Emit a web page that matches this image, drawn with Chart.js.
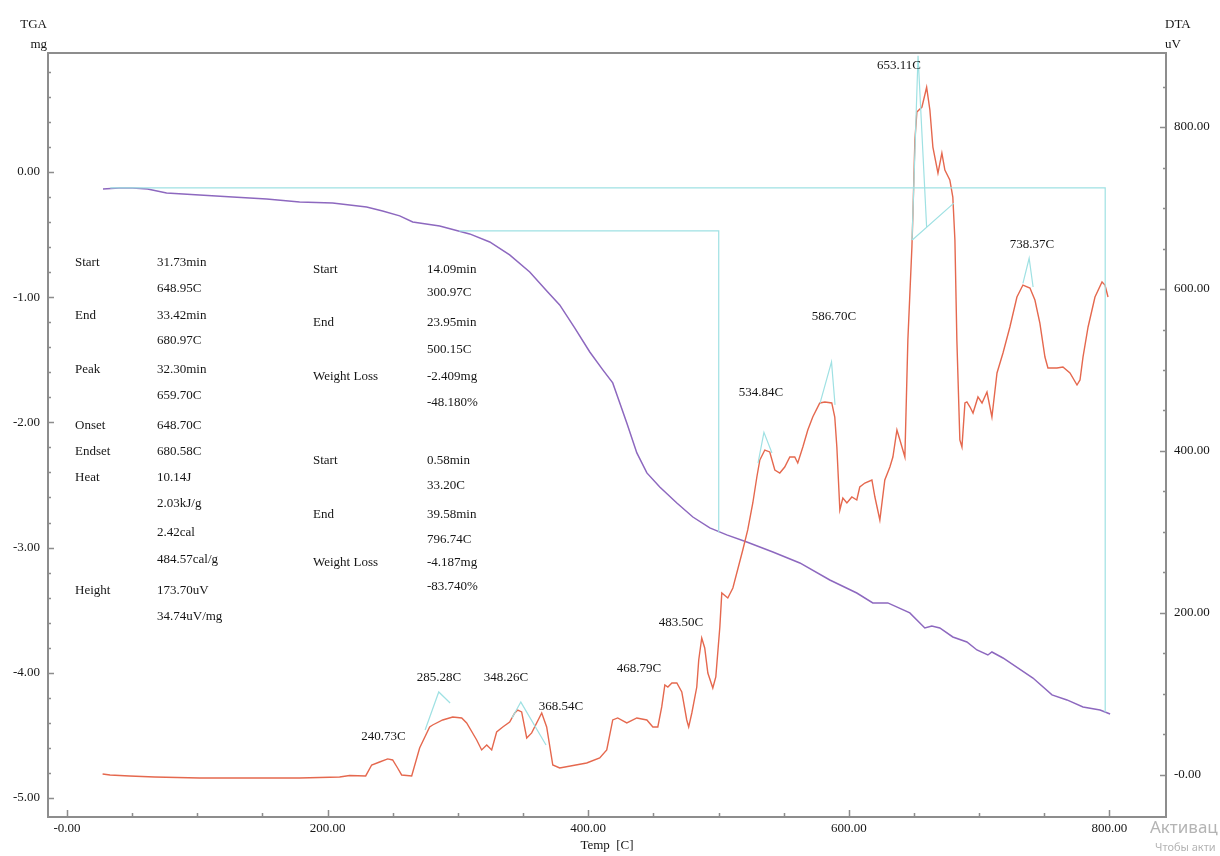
<!DOCTYPE html>
<html>
<head>
<meta charset="utf-8">
<title>TGA / DTA</title>
<script src="https://cdn.jsdelivr.net/npm/chart.js@4.4.1/dist/chart.umd.min.js"></script>
<style>
  html, body { margin: 0; padding: 0; background: #ffffff; }
  #wrap { width: 1220px; height: 856px; position: relative; }
  canvas { display: block; }
</style>
</head>
<body>
<div id="wrap"><canvas id="chart" width="1220" height="856"></canvas></div>
<script>
// ---- Axis ticks ----------------------------------------------------------
const tempTicks = [0, 200, 400, 600, 800];
const tempTickLabels = ['-0.00', '200.00', '400.00', '600.00', '800.00'];
const tgaTicks = [0, -1, -2, -3, -4, -5];
const tgaTickLabels = ['0.00', '-1.00', '-2.00', '-3.00', '-4.00', '-5.00'];
const dtaTicks = [0, 200, 400, 600, 800];
const dtaTickLabels = ['-0.00', '200.00', '400.00', '600.00', '800.00'];

// ---- TGA curve: temperature [C] / mass change [mg] ------------------------
const tgaTemp = [27.6, 40.0, 50.3, 61.8, 76.4, 101.7, 127.1, 153.2, 178.5, 203.8,
  229.9, 242.2, 255.3, 265.3, 286.0, 309.0, 324.4, 339.7, 355.1, 368.9,
  378.1, 389.6, 401.2, 411.2, 418.8, 422.6, 429.6, 437.3, 445.0, 454.9,
  468.0, 480.3, 493.3, 506.3, 521.7, 541.7, 562.4, 585.4, 606.1, 618.4,
  629.9, 646.8, 658.3, 663.7, 669.8, 679.8, 690.6, 698.3, 706.7, 709.8,
  718.3, 741.3, 755.9, 767.4, 779.7, 792.8, 800.5];
const tgaMass = [-0.136, -0.128, -0.128, -0.136, -0.168, -0.184, -0.200, -0.216, -0.240, -0.248,
  -0.280, -0.312, -0.351, -0.399, -0.431, -0.495, -0.559, -0.663, -0.799, -0.958,
  -1.062, -1.246, -1.438, -1.581, -1.685, -1.797, -2.005, -2.244, -2.404, -2.516,
  -2.644, -2.756, -2.843, -2.899, -2.955, -3.035, -3.123, -3.259, -3.363, -3.442,
  -3.442, -3.522, -3.642, -3.626, -3.642, -3.714, -3.754, -3.818, -3.858, -3.834,
  -3.882, -4.042, -4.177, -4.217, -4.273, -4.297, -4.329];

// ---- DTA curve: temperature [C] / signal [uV] ------------------------------
const dtaTemp = [27.3, 33.0, 48.0, 67.2, 101.7, 178.5, 209.2, 216.9, 229.2, 233.8,
  239.9, 246.1, 249.9, 253.7, 256.8, 264.5, 270.6, 278.3, 280.6, 288.3,
  296.0, 302.9, 306.7, 314.4, 318.2, 322.1, 325.9, 329.7, 334.4, 339.7,
  343.6, 345.9, 348.9, 352.8, 356.6, 364.3, 368.1, 372.8, 378.1, 398.8,
  408.8, 414.2, 418.8, 422.6, 429.6, 437.3, 445.0, 449.6, 453.4, 456.4,
  458.8, 461.1, 464.2, 468.0, 471.8, 475.6, 477.1, 479.5, 483.3, 484.8,
  487.1, 489.4, 491.8, 495.6, 497.9, 501.0, 502.5, 507.1, 511.0, 518.6,
  522.4, 526.3, 529.4, 531.7, 535.5, 539.3, 543.2, 547.0, 550.8, 554.7,
  558.5, 560.8, 564.7, 568.5, 572.3, 577.7, 581.6, 586.9, 589.2, 590.8,
  593.1, 595.4, 598.5, 602.3, 606.1, 608.4, 612.3, 617.7, 620.0, 623.8,
  627.6, 631.5, 633.8, 636.9, 639.2, 643.0, 645.3, 648.4, 649.2, 650.7,
  652.2, 656.1, 659.7, 662.2, 664.5, 668.4, 671.4, 673.7, 677.5, 679.8,
  681.4, 682.9, 685.2, 686.8, 689.1, 690.6, 693.0, 695.3, 699.1, 702.2,
  706.0, 709.8, 713.7, 718.3, 723.6, 729.0, 733.6, 739.0, 742.8, 746.6,
  750.5, 752.8, 759.7, 764.3, 769.7, 775.1, 777.4, 779.7, 783.6, 788.9,
  794.3, 796.6, 798.9];
const dtaSignal = [1.2, 0, -1.2, -2.5, -3.7, -3.7, -2.5, -0.6, -1.2, 12.3,
  16.0, 19.8, 18.5, 8.6, 0, -1.2, 33.3, 59.3, 61.7, 67.9,
  71.6, 70.4, 64.2, 43.2, 30.9, 37.0, 30.9, 53.1, 59.3, 65.4,
  76.5, 80.2, 77.8, 45.7, 51.9, 76.5, 59.3, 12.3, 8.6, 14.8,
  21.0, 30.9, 67.9, 70.4, 64.2, 70.4, 67.9, 59.3, 59.3, 84.0,
  111.1, 108.6, 113.6, 113.6, 102.5, 67.9, 59.3, 76.5, 108.6, 142.0,
  169.1, 156.8, 125.9, 107.4, 121.0, 182.7, 224.7, 218.5, 230.9, 277.8,
  302.5, 335.8, 367.9, 388.9, 401.2, 398.8, 376.5, 372.8, 380.2, 392.6,
  392.6, 385.2, 404.9, 425.9, 442.0, 459.3, 460.5, 459.3, 442.0, 404.9,
  327.2, 342.0, 335.8, 343.2, 339.5, 355.6, 360.5, 364.2, 343.2, 314.8,
  364.2, 380.2, 392.6, 425.9, 413.6, 392.6, 537.0, 651.9, 693.8, 784.0,
  818.5, 824.7, 849.0, 821.0, 775.3, 743.2, 767.9, 746.9, 734.6, 713.6,
  660.5, 537.0, 413.6, 404.9, 459.3, 460.5, 454.3, 446.9, 466.7, 459.3,
  472.8, 442.0, 496.3, 521.0, 553.1, 590.1, 604.9, 601.2, 586.4, 558.0,
  516.0, 502.5, 502.5, 503.7, 496.3, 481.5, 487.7, 516.0, 553.1, 590.1,
  608.6, 604.9, 590.1];

// ---- TGA step evaluation (start/end temperature, level, weight loss) -------
const stepTemp = [33.20, 796.74, 796.74, null, 300.97, 500.15, 500.15];
const stepMass = [-0.128, -0.128, -0.128 - 4.187, null, -0.471, -0.471, -0.471 - 2.409];

// ---- DTA peak construction lines ------------------------------------------
const markTemp = [274.8, 285.28, 294.0, null,
  341.5, 348.26, 367.6, null,
  530.3, 534.84, 541.0, null,
  577.9, 586.70, 589.4, null,
  648.5, 653.11, 659.70, null,
  648.70, 680.58, null,
  733.6, 738.37, 741.4];
const markSignal = [55.6, 102.5, 88.9, null,
  70.4, 90.0, 37.0, null,
  385.0, 423.0, 397.5, null,
  459.0, 510.0, 457.0, null,
  660.5, 888.0, 676.2, null,
  660.5, 706.0, null,
  607.0, 638.0, 602.5];

// ---- DTA peak temperatures and where their labels sit ----------------------
const peakTemps = [240.73, 285.28, 348.26, 368.54, 468.79, 483.50, 534.84, 586.70, 653.11, 738.37];
const peakLabelAt = [[242.9, 46.9], [285.5, 119.8], [336.9, 119.8], [379.1, 84.0], [439.0, 130.9],
  [471.2, 187.7], [532.6, 471.6], [588.6, 565.4], [638.5, 875.3], [740.6, 654.3]];

// ---- Evaluation tables --------------------------------------------------
const peakTable = [
  ['Start', '31.73min', 263], ['', '648.95C', 289],
  ['End', '33.42min', 316], ['', '680.97C', 341],
  ['Peak', '32.30min', 370], ['', '659.70C', 396],
  ['Onset', '648.70C', 426],
  ['Endset', '680.58C', 452],
  ['Heat', '10.14J', 478], ['', '2.03kJ/g', 504], ['', '2.42cal', 533], ['', '484.57cal/g', 560],
  ['Height', '173.70uV', 591], ['', '34.74uV/mg', 617]
];
const stepTable = [
  ['Start', '14.09min', 270], ['', '300.97C', 293],
  ['End', '23.95min', 323], ['', '500.15C', 350],
  ['Weight Loss', '-2.409mg', 377], ['', '-48.180%', 403],
  ['Start', '0.58min', 461], ['', '33.20C', 486],
  ['End', '39.58min', 515], ['', '796.74C', 540],
  ['Weight Loss', '-4.187mg', 563], ['', '-83.740%', 587]
];

// ---- helpers ------------------------------------------------------------
const SERIF = '"Liberation Serif", "Times New Roman", serif';
const TEXT = '#161616';
const FRAME = '#8d8d8d';

function toPoints(xs, ys) {
  return xs.map((x, i) => {
    if (x === null) return { x: xs[i - 1], y: null };
    return { x: x, y: ys[i] };
  });
}

function stepTicks(from, to, step) {
  const out = [];
  const n = Math.round((to - from) / step);
  for (let i = 0; i <= n; i++) out.push({ value: +(from + i * step).toFixed(6) });
  return out;
}

function majorLabel(majors, labels) {
  return function (value) {
    const i = majors.findIndex(m => Math.abs(m - value) < 1e-6);
    return i >= 0 ? labels[i] : '';
  };
}

function isMajor(majors, value) {
  return majors.some(m => Math.abs(m - value) < 1e-6);
}

// frame, inward tick marks and all free text
const decorations = {
  id: 'decorations',
  beforeDatasetsDraw(chart) {
    const { ctx, chartArea: a, scales } = chart;
    ctx.save();
    ctx.strokeStyle = FRAME;
    ctx.lineWidth = 2;
    ctx.strokeRect(a.left, a.top, a.right - a.left, a.bottom - a.top);

    ctx.lineWidth = 1.5;
    ctx.beginPath();
    scales.x.ticks.forEach(t => {
      const px = Math.round(scales.x.getPixelForValue(t.value)) + 0.5;
      const len = isMajor(tempTicks, t.value) ? 7 : 4;
      ctx.moveTo(px, a.bottom);
      ctx.lineTo(px, a.bottom - len);
    });
    scales.yL.ticks.forEach(t => {
      const py = Math.round(scales.yL.getPixelForValue(t.value)) + 0.5;
      const len = isMajor(tgaTicks, t.value) ? 6 : 3;
      ctx.moveTo(a.left, py);
      ctx.lineTo(a.left + len, py);
    });
    scales.yR.ticks.forEach(t => {
      const py = Math.round(scales.yR.getPixelForValue(t.value)) + 0.5;
      const len = isMajor(dtaTicks, t.value) ? 6 : 3;
      ctx.moveTo(a.right, py);
      ctx.lineTo(a.right - len, py);
    });
    ctx.stroke();
    ctx.restore();
  },
  afterDraw(chart) {
    const { ctx, scales } = chart;
    ctx.save();
    ctx.fillStyle = TEXT;
    ctx.font = '13px ' + SERIF;
    ctx.textBaseline = 'middle';

    // axis captions
    ctx.textAlign = 'right';
    ctx.fillText('TGA', 47, 25);
    ctx.fillText('mg', 47, 45);
    ctx.textAlign = 'left';
    ctx.fillText('DTA', 1165, 25);
    ctx.fillText('uV', 1165, 45);

    // evaluation tables
    peakTable.forEach(([label, value, y]) => {
      if (label) ctx.fillText(label, 75, y);
      ctx.fillText(value, 157, y);
    });
    stepTable.forEach(([label, value, y]) => {
      if (label) ctx.fillText(label, 313, y);
      ctx.fillText(value, 427, y);
    });

    // peak temperature labels
    ctx.textAlign = 'center';
    peakTemps.forEach((t, i) => {
      const [lx, ly] = peakLabelAt[i];
      ctx.fillText(t.toFixed(2) + 'C', scales.x.getPixelForValue(lx), scales.yR.getPixelForValue(ly));
    });

    // system watermark in the corner
    ctx.textAlign = 'left';
    ctx.fillStyle = '#b4b4b4';
    ctx.font = '17px "Noto Sans", "Open Sans", sans-serif';
    ctx.fillText('Активац', 1150, 828);
    ctx.font = '11px "Noto Sans", "Open Sans", sans-serif';
    ctx.fillText('Чтобы акти', 1155, 848);
    ctx.restore();
  }
};

const tickFont = { family: SERIF, size: 13 };
const hiddenGrid = { display: false, drawTicks: false, tickLength: 0 };

new Chart(document.getElementById('chart'), {
  type: 'line',
  data: {
    datasets: [
      {
        label: 'TGA steps',
        data: toPoints(stepTemp, stepMass),
        yAxisID: 'yL',
        borderColor: '#9fe1e3',
        borderWidth: 1.2,
        pointRadius: 0,
        spanGaps: false,
        order: 0
      },
      {
        label: 'DTA peaks',
        data: toPoints(markTemp, markSignal),
        yAxisID: 'yR',
        borderColor: '#9fe1e3',
        borderWidth: 1.2,
        pointRadius: 0,
        spanGaps: false,
        order: 0
      },
      {
        label: 'DTA',
        data: toPoints(dtaTemp, dtaSignal),
        yAxisID: 'yR',
        borderColor: '#e5684e',
        borderWidth: 1.4,
        pointRadius: 0,
        tension: 0,
        order: 1
      },
      {
        label: 'TGA',
        data: toPoints(tgaTemp, tgaMass),
        yAxisID: 'yL',
        borderColor: '#8d68bf',
        borderWidth: 1.5,
        pointRadius: 0,
        tension: 0,
        order: 2
      }
    ]
  },
  options: {
    responsive: false,
    maintainAspectRatio: false,
    devicePixelRatio: 1,
    animation: false,
    events: [],
    layout: { padding: { top: 53, left: 0, right: 0, bottom: 0 } },
    plugins: {
      legend: { display: false },
      tooltip: { enabled: false },
      title: { display: false }
    },
    scales: {
      x: {
        type: 'linear',
        position: 'bottom',
        min: -14.6,
        max: 843.4,
        afterFit(s) { s.height = 39; },
        afterBuildTicks(s) { s.ticks = stepTicks(0, 800, 50); },
        grid: hiddenGrid,
        border: { display: false },
        ticks: {
          autoSkip: false,
          maxRotation: 0,
          minRotation: 0,
          padding: 4,
          color: TEXT,
          font: tickFont,
          callback: majorLabel(tempTicks, tempTickLabels)
        },
        title: {
          display: true,
          text: 'Temp  [C]',
          color: TEXT,
          font: tickFont,
          padding: { top: 0, bottom: 3 }
        }
      },
      yL: {
        type: 'linear',
        position: 'left',
        min: -5.152,
        max: 0.950,
        afterFit(s) { s.width = 48; },
        afterBuildTicks(s) { s.ticks = stepTicks(-5, 0.8, 0.2); },
        grid: hiddenGrid,
        border: { display: false },
        ticks: {
          autoSkip: false,
          padding: 8,
          color: TEXT,
          font: tickFont,
          callback: majorLabel(tgaTicks, tgaTickLabels)
        }
      },
      yR: {
        type: 'linear',
        position: 'right',
        min: -51.9,
        max: 891.4,
        afterFit(s) { s.width = 54; },
        afterBuildTicks(s) { s.ticks = stepTicks(0, 850, 50); },
        grid: hiddenGrid,
        border: { display: false },
        ticks: {
          autoSkip: false,
          padding: 8,
          color: TEXT,
          font: tickFont,
          callback: majorLabel(dtaTicks, dtaTickLabels)
        }
      }
    }
  },
  plugins: [decorations]
});
</script>
</body>
</html>
